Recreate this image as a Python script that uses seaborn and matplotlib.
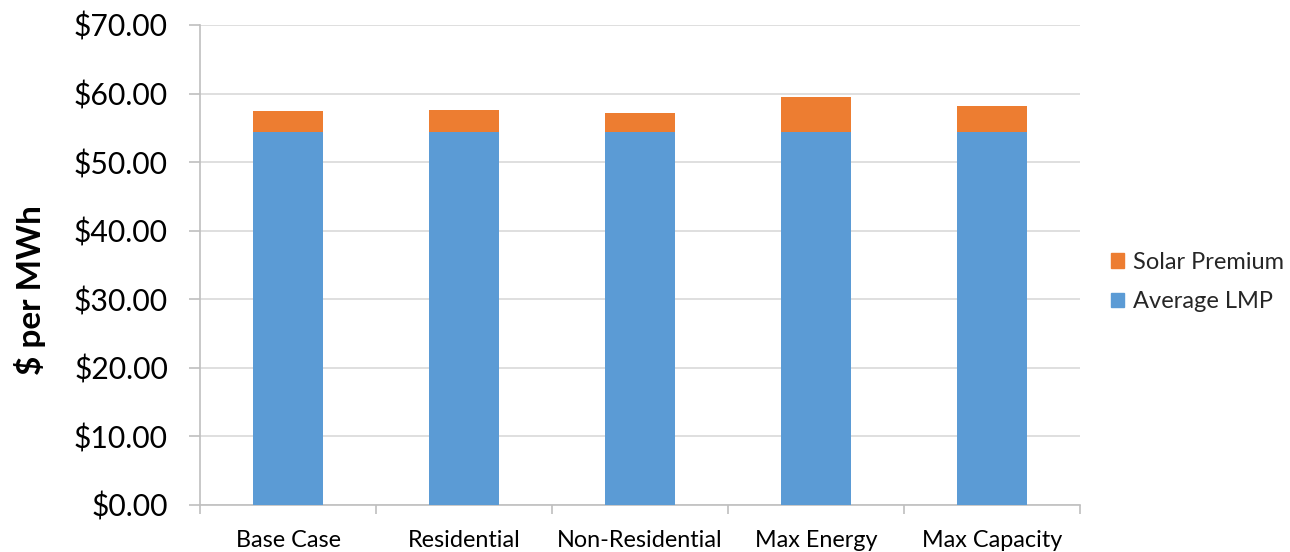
import matplotlib
matplotlib.use("Agg")
import matplotlib.pyplot as plt
import seaborn as sns
import pandas as pd
import numpy as np
from matplotlib.ticker import FuncFormatter, FixedLocator
from matplotlib.patches import Patch

categories = ["Base Case", "Residential", "Non-Residential", "Max Energy", "Max Capacity"]
average_lmp = [54.45, 54.45, 54.45, 54.45, 54.45]
solar_premium = [3.05, 3.20, 2.75, 5.05, 3.75]

sns.set_theme(style="white")
plt.rcParams['font.family'] = ['Lato', 'DejaVu Sans']

BLUE = "#5B9BD5"
ORANGE = "#ED7D31"
GRID = "#D9D9D9"
AXIS = "#BFBFBF"

df = pd.DataFrame({
    "category": categories,
    "lmp": average_lmp,
    "total": np.array(average_lmp) + np.array(solar_premium),
})

fig = plt.figure(figsize=(12.9, 5.52), dpi=100)
ax = fig.add_axes([200/1290, 1-505/552, 880/1290, 480/552])

sns.barplot(data=df, x="category", y="total", color=ORANGE, saturation=1,
            width=0.4, ax=ax, zorder=3, linewidth=0, edgecolor="none")
sns.barplot(data=df, x="category", y="lmp", color=BLUE, saturation=1,
            width=0.4, ax=ax, zorder=4, linewidth=0, edgecolor="none")

ax.set_xlim(-0.5, len(categories) - 0.5)
ax.set_ylim(0, 70)
ax.set_yticks(np.arange(0, 71, 10))
ax.yaxis.set_major_formatter(FuncFormatter(lambda v, p: f"${v:.2f}"))
ax.grid(axis="y", color=GRID, linewidth=1.2, zorder=0)
ax.set_axisbelow(True)

for s in ["top", "right"]:
    ax.spines[s].set_visible(False)
for s in ["left", "bottom"]:
    ax.spines[s].set_color(AXIS)
    ax.spines[s].set_linewidth(1.2)

ax.tick_params(axis="y", which="major", length=8, width=1.2, color=AXIS,
               labelsize=21.7, labelcolor="black", pad=15, left=True)
ax.set_xticks(range(len(categories)))
ax.set_xticklabels(categories)
ax.tick_params(axis="x", which="major", length=0, labelsize=16.8,
               labelcolor="black", pad=18)
ax.xaxis.set_minor_locator(FixedLocator(np.arange(-0.5, len(categories), 1.0)))
ax.tick_params(axis="x", which="minor", length=6.5, width=1.2, color=AXIS,
               bottom=True)

ax.set_xlabel("")
ax.set_ylabel("$ per MWh", fontsize=24, fontweight="bold", color="black")
ax.yaxis.set_label_coords((46 - 200) / 880, (505 - 290) / 480)

handles = [Patch(color=ORANGE, label="Solar Premium"),
           Patch(color=BLUE, label="Average LMP")]
fig.legend(handles=handles, loc="center left", bbox_to_anchor=(1111/1290, 1-282/552),
           frameon=False, fontsize=17, handlelength=0.55, handleheight=0.55,
           handletextpad=0.38, labelspacing=0.78, borderpad=0, borderaxespad=0)

fig.savefig("out.png", dpi=100)
